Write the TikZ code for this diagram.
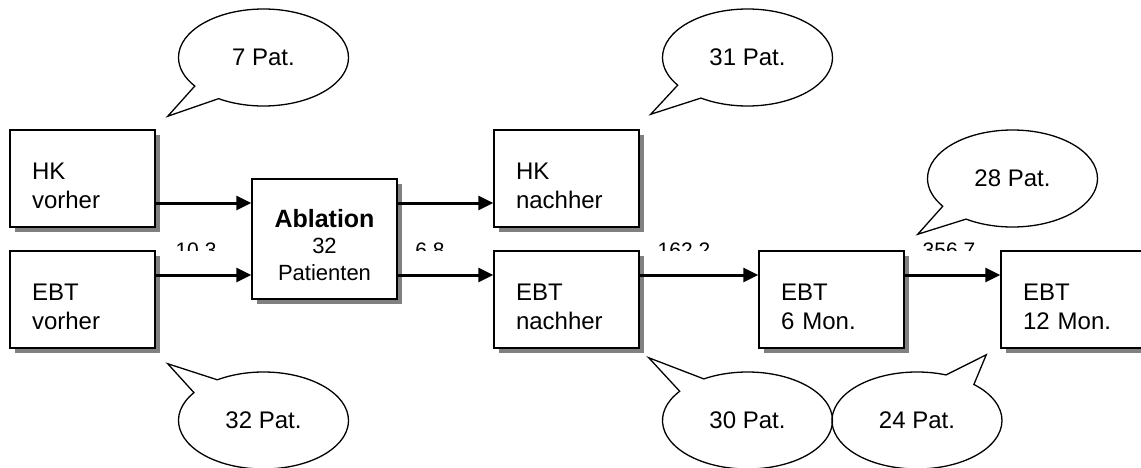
\documentclass[tikz,border=0pt]{standalone}
\usepackage{fontspec}
\setmainfont{Liberation Sans}
\usetikzlibrary{shapes.geometric,shapes.callouts,arrows.meta,shadows,positioning}
\tikzset
{
    stagebox/.style = {rectangle, draw=black, line width=1.5pt, fill=white, minimum width=145pt, minimum height=97pt, text width=101pt, align=left, text height=32pt, font=\fontsize{24}{29}\selectfont, drop shadow={shadow xshift=5pt, shadow yshift=-5pt, fill=black!50, opacity=1}},
    ablbox/.style   = {stagebox, minimum height=120pt, align=center, text height=30pt, font=\fontsize{22}{26.5}\selectfont},
    patcall/.style  = {ellipse callout, draw=black, line width=1.3pt, minimum width=170pt, minimum height=97pt, inner sep=0pt, callout pointer arc=22, font=\fontsize{24}{29}\selectfont},
    numlabel/.style = {font=\fontsize{21}{25}\selectfont, inner sep=0pt, anchor=base},
    arrow/.style    = {line width=3pt, -{Triangle[length=15pt,width=14pt]}}
}

\begin{document}
\begin{tikzpicture}[x=1pt, y=-1pt]

	 \newcommand\COLDX{242}
	 \newcommand\ROWDY{121}
	 \newcommand\CALLDX{181}
	 \newcommand\CALLDY{121}

	 \useasboundingbox (0,0) rectangle (1141,468);

	 \node (hkv)   [stagebox] 	at (82.5, 178.5)                       	{HK\\vorher};
	 \node (ebtv)  [stagebox] 	at ([shift=({0, \ROWDY})]hkv)         	{EBT\\vorher};
	 \node (abl)   [ablbox]   	at ([shift=({\COLDX, \ROWDY/2})]hkv)  	{{\fontsize{25}{26.5}\selectfont\bfseries Ablation}\\32\\Patienten};
	 \node (hkn)   [stagebox] 	at ([shift=({\COLDX, -\ROWDY/2})]abl) 	{HK\\nachher};
	 \node (ebtn)  [stagebox] 	at ([shift=({0, \ROWDY})]hkn)         	{EBT\\nachher};
	 \node (ebt6)  [stagebox] 	at ([shift=({265, 0})]ebtn)           	{EBT\\6 Mon.};
	 \node (ebt12) [stagebox] 	at ([shift=({\COLDX, 0})]ebt6)        	{EBT\\12 Mon.};

	 \coordinate (a1) at ([yshift=36pt]abl.west);
	 \coordinate (a2) at ([yshift=-36pt]abl.west);
	 \coordinate (b1) at ([yshift=36pt]abl.east);
	 \coordinate (b2) at ([yshift=-36pt]abl.east);

	 \path
		  (hkv.east |- a1)   edge[arrow]  node {} (a1)
		  (ebtv.east |- a2)  edge[arrow]  node {} (a2)
		  (b1)               edge[arrow]  node {} (hkn.west |- b1)
		  (b2)               edge[arrow]  node {} (ebtn.west |- b2)
		  (ebtn.east |- b2)  edge[arrow]  node {} (ebt6.west |- b2)
		  (ebt6.east |- b2)  edge[arrow]  node {} (ebt12.west |- b2);

	 % values cut off at the top of the lower boxes
	 \begin{scope}
		  \clip (0,0) rectangle (1141,250);
		  \node (n103)  [numlabel] at (196, 257) {10.3};
		  \node (n68)   [numlabel] at (430, 257) {6.8};
		  \node (n1622) [numlabel] at (684, 257) {162.2};
		  \node (n3567) [numlabel] at (949, 257) {356.7};
	 \end{scope}

	 \node (c7)  [patcall, callout absolute pointer={([shift={(12,-13)}]hkv.north east)}]   at ([shift=({\CALLDX, -\CALLDY})]hkv)  {7 Pat.};
	 \node (c31) [patcall, callout absolute pointer={([shift={(11,-15)}]hkn.north east)}]   at ([shift=({\CALLDX, -\CALLDY})]hkn)  {31 Pat.};
	 \node (c28) [patcall, callout absolute pointer={([shift={(13,-16)}]ebt6.north east)}]  at ([shift=({\CALLDX, -\CALLDY})]ebt6) {28 Pat.};
	 \node (c32) [patcall, callout absolute pointer={([shift={(12,15)}]ebtv.south east)}]   at ([shift=({\CALLDX, \CALLDY})]ebtv)  {32 Pat.};
	 \node (c30) [patcall, callout absolute pointer={([shift={(9,9)}]ebtn.south east)}]     at ([shift=({\CALLDX, \CALLDY})]ebtn)  {30 Pat.};
	 \node (c24) [patcall, callout absolute pointer={([shift={(-14,6)}]ebt12.south west)}]  at ([shift=({85.5, \CALLDY})]ebt6)     {24 Pat.};
\end{tikzpicture}
\end{document}
